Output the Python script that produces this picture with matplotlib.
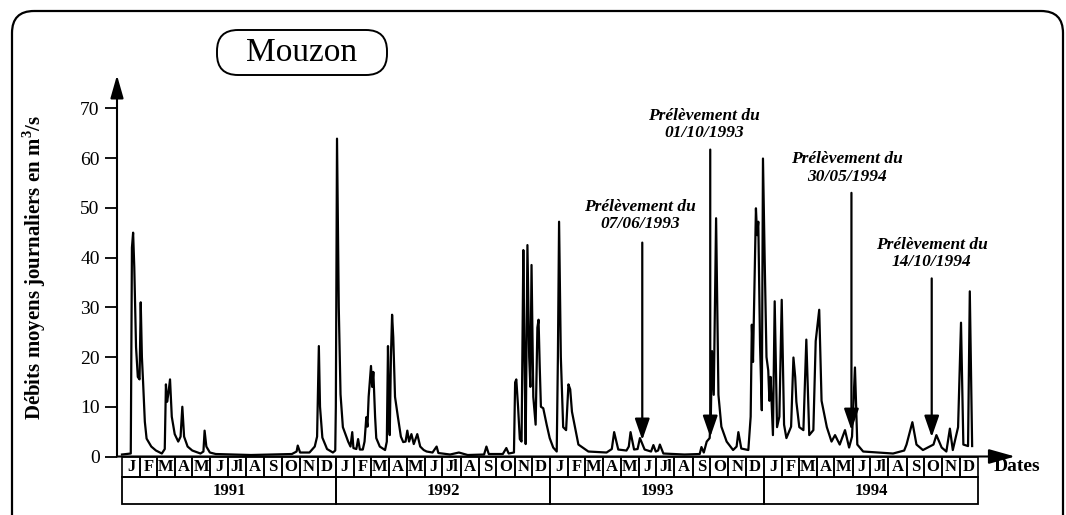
import numpy as np
import matplotlib
matplotlib.use("Agg")
from matplotlib import pyplot as plt
from matplotlib.patches import Rectangle, FancyBboxPatch

plt.rcParams['font.family'] = ['Liberation Serif', 'DejaVu Serif']
plt.rcParams['mathtext.fontset'] = 'custom'
plt.rcParams['mathtext.rm'] = 'Liberation Serif'
plt.rcParams['mathtext.bf'] = 'Liberation Serif:bold'

#############################################################
# Data (read off the hydrograph, day of year / m3/s)
#############################################################
years = [1991, 1992, 1993, 1994]
month_labels = ['J', 'F', 'M', 'A', 'M', 'J', 'Jl', 'A', 'S', 'O', 'N', 'D']

doy_1991 = [0, 15, 17, 19, 21, 24, 27, 30, 32, 34, 36, 39, 42, 50, 58, 68, 73, 75, 77, 79,
            82, 85, 90, 96, 100, 103, 106, 112, 120, 134, 139, 141, 144, 150, 160, 220, 290,
            298, 300, 304, 320, 329, 333, 336, 338, 342, 350, 360, 364]
q_1991 = [0.4, 0.6, 42, 45, 38, 22, 16, 15.5, 31, 20, 15, 7, 3.6, 2, 1.2, 0.6, 1.5, 14.5, 11, 12.5,
          15.5, 8, 4.5, 3, 4, 10, 4, 2, 1.2, 0.6, 1, 5.2, 2, 0.8, 0.5, 0.3, 0.5,
          1, 2.2, 0.8, 0.8, 2, 4, 22.2, 10, 3.8, 1.5, 0.8, 1.2]

doy_1992 = [0, 2, 5, 8, 12, 21, 25, 28, 30, 35, 38, 41, 46, 49, 52, 54, 56, 60, 62, 64, 67, 69,
            75, 84, 87, 89, 91, 92, 94, 96, 98, 101, 106, 111, 115, 119, 122, 125, 129, 133,
            139, 144, 150, 155, 165, 172, 175, 195, 210, 225, 253, 257, 261, 285, 291, 295,
            304, 306, 308, 311, 314, 317, 320, 322, 324, 327, 330, 332, 334, 337, 341, 344,
            346, 348, 350, 354, 360, 365]
q_1992 = [10, 63.9, 30, 12.5, 5.9, 3, 2, 4.9, 1.7, 1.5, 3.5, 1.4, 1.4, 3, 7.9, 6, 12, 18.2, 14, 17, 8, 3.7,
          2, 1.3, 3, 22.2, 6, 4.3, 20, 28.5, 24, 12, 7.9, 4, 2.9, 3, 5.2, 3, 4.5, 2.5,
          4.5, 2, 1.3, 1.0, 0.8, 2, 0.7, 0.4, 0.8, 0.3, 0.4, 2, 0.5, 0.5, 1.7, 0.6,
          0.8, 14.9, 15.5, 10, 3.5, 3, 41.5, 20, 2.5, 42.5, 20, 14, 38.5, 12, 6.4, 25.9,
          27.5, 18, 10, 9.7, 6.3, 3.7]

doy_1993 = [5, 11, 13, 15, 18, 22, 27, 31, 34, 37, 42, 48, 65, 96, 105, 109, 116, 130, 134, 137,
            143, 149, 153, 161, 172, 176, 180, 184, 187, 193, 229, 255, 258, 262, 267, 272,
            274, 276, 279, 283, 287, 292, 301, 312, 318, 321, 326, 338, 342, 344, 346, 351,
            353, 355, 358, 361, 363]
q_1993 = [1.8, 1.0, 20, 47.2, 20, 5.9, 5.3, 14.5, 13.5, 9, 6, 2.4, 1, 0.8, 1.5, 4.9, 1.4, 1.2, 2, 4.9,
          1.4, 1.5, 3.7, 1.4, 1, 2.3, 1, 1.2, 2.4, 0.6, 0.4, 0.5, 1.9, 0.8, 3, 3.7,
          8, 21.2, 12.4, 47.9, 12.4, 6, 3, 1.3, 2, 4.9, 1.6, 1.3, 8, 26.5, 19, 49.9,
          44.5, 47.2, 22.5, 9.3, 59.9]

doy_1994 = [1, 4, 7, 9, 11, 15, 18, 22, 26, 30, 34, 38, 46, 50, 53, 55, 60, 67, 72, 77, 84, 88,
            94, 98, 107, 115, 121, 129, 138, 145, 150, 155, 159, 169, 220, 239, 243, 253,
            260, 271, 289, 294, 303, 311, 317, 322, 331, 336, 340, 348, 351, 355]
q_1994 = [39, 20, 17.3, 11.2, 16, 4.3, 31.2, 5.9, 8, 31.5, 6.4, 3.7, 6, 19.9, 16, 11, 5.9, 5.3, 23.5, 4.3, 5.3, 23.2,
          29.5, 11.2, 5.9, 3, 4.3, 2.4, 5.3, 1.8, 4, 17.9, 2.4, 1, 0.6, 1.2, 2.4, 6.9,
          2.4, 1.3, 2.4, 4.3, 1.8, 1, 5.6, 1.3, 5.9, 26.9, 2.4, 2.1, 33.2, 2.1]

sample_dates = ['1993-06-07', '1993-10-01', '1994-05-30', '1994-10-14']
sample_labels = ['07/06/1993', '01/10/1993', '30/05/1994', '14/10/1994']

#############################################################
# Build series
#############################################################
t0 = np.datetime64('1991-01-01')
year_start = [int((np.datetime64(f'{y}-01-01') - t0).astype(int)) for y in years + [1995]]
days = np.concatenate([np.array(d) + year_start[i]
                       for i, d in enumerate([doy_1991, doy_1992, doy_1993, doy_1994])])
flow = np.concatenate([q_1991, q_1992, q_1993, q_1994])
month_start = (np.arange('1991-01', '1995-02', dtype='datetime64[M]').astype('datetime64[D]') - t0).astype(int)
sample_days = [int((np.datetime64(d) - t0).astype(int)) for d in sample_dates]

#############################################################
# Plot
#############################################################
fig = plt.figure(figsize=(10.66, 5.15), dpi=100)

bg = fig.add_axes([0, 0, 1, 1])
bg.set_xlim(0, 1066)
bg.set_ylim(515, 0)
bg.axis('off')
bg.add_patch(FancyBboxPatch((12, 11), 1051, 530, boxstyle='round,pad=0,rounding_size=22',
                            fill=False, lw=1.6, clip_on=False))
bg.add_patch(FancyBboxPatch((217, 30), 170, 45, boxstyle='round,pad=0,rounding_size=21',
                            fill=False, lw=1.4))
bg.text(302, 53, 'Mouzon', fontsize=24, ha='center', va='center')

ax = fig.add_axes([117 / 1066, (515 - 456.5) / 515, 861 / 1066, 348.2 / 515])
ax.patch.set_visible(False)
ax.set_xlim(-8.5, 1461)
ax.set_ylim(0, 70)
for s in ax.spines.values():
    s.set_visible(False)

ax.plot(days, flow, color='k', lw=1.6, clip_on=False)

ax.set_xticks([])
ax.set_yticks(range(0, 80, 10))
ax.tick_params(axis='y', length=8.5, width=1.3, pad=4, labelsize=14)
ax.set_ylabel(r'Débits moyens journaliers en m$^{\mathbf{3}}$/s', fontsize=15, fontweight='bold')
ax.yaxis.set_label_coords(-0.080, 0.543)

# axes with arrows
ax.annotate('', xy=(0, 1.095), xytext=(0, 0), xycoords='axes fraction',
            arrowprops=dict(arrowstyle='-|>,head_length=1.4,head_width=0.4', color='k', lw=1.5,
                            shrinkA=0, shrinkB=0))
ax.annotate('', xy=(1.043, 0), xytext=(0, 0), xycoords='axes fraction',
            arrowprops=dict(arrowstyle='-|>,head_length=1.6,head_width=0.45', color='k', lw=1.5,
                            shrinkA=0, shrinkB=0))
ax.text(1.018, -0.03, 'Dates', transform=ax.transAxes, fontsize=14, fontweight='bold',
        ha='left', va='center')

# month / year boxes
tr = ax.get_xaxis_transform()
for i in range(48):
    m0, m1 = month_start[i], month_start[i + 1]
    ax.add_patch(Rectangle((m0, -0.058), m1 - m0, 0.058, transform=tr, fill=False, lw=1.2, clip_on=False))
    ax.text((m0 + m1) / 2, -0.029, month_labels[i % 12], transform=tr, ha='center', va='center',
            fontsize=12, fontweight='bold')
for i, y in enumerate(years):
    y0, y1 = year_start[i], year_start[i + 1]
    ax.add_patch(Rectangle((y0, -0.1364), y1 - y0, 0.0784, transform=tr, fill=False, lw=1.3, clip_on=False))
    ax.text((y0 + y1) / 2, -0.099, str(y), transform=tr, ha='center', va='center',
            fontsize=12, fontweight='bold')

# sampling arrows
arrow_top = [43, 61.7, 53, 35.8]
arrow_tip = [3.3, 3.9, 5.3, 3.9]
text_y = [48.5, 66.8, 58, 40.8]
text_dx = [-4, -10, -8, 0]
for d, lab, top, tip, ty, dx in zip(sample_days, sample_labels, arrow_top, arrow_tip, text_y, text_dx):
    ax.annotate('', xy=(d, tip), xytext=(d, top),
                arrowprops=dict(arrowstyle='-|>,head_length=1.3,head_width=0.45', color='k', lw=1.6,
                                shrinkA=0, shrinkB=0))
    ax.text(d + dx, ty, 'Prélèvement du\n' + lab, ha='center', va='center', fontsize=12.5,
            fontweight='bold', style='italic', linespacing=1.1)

fig.savefig('out.png', dpi=100)
